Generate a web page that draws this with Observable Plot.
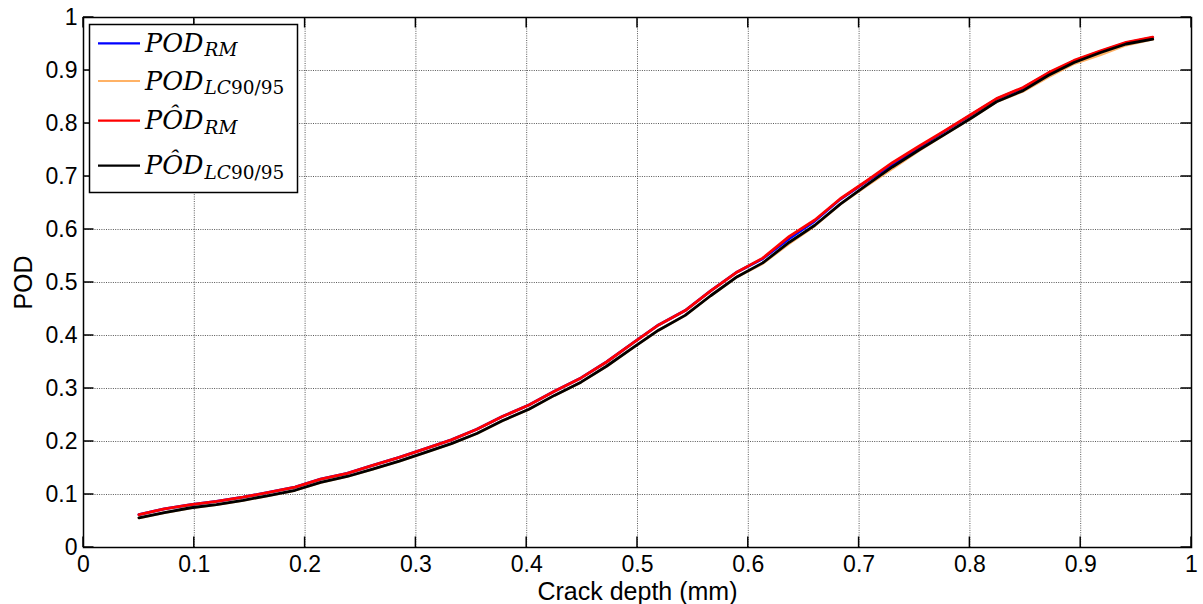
<!DOCTYPE html>
<html>
<head>
<meta charset="utf-8">
<script src="https://cdn.jsdelivr.net/npm/d3@7"></script>
<script src="https://cdn.jsdelivr.net/npm/@observablehq/plot@0.6"></script>
<style>
  html, body { margin: 0; padding: 0; background: #fff; }
  #chart svg { display: block; }
</style>
</head>
<body>
<div id="chart"></div>
<script>
// ---- data ----
const depth = [0.050, 0.073, 0.097, 0.120, 0.144, 0.167, 0.191, 0.214, 0.238, 0.261,
               0.285, 0.308, 0.332, 0.355, 0.378, 0.402, 0.425, 0.449, 0.472, 0.496,
               0.519, 0.543, 0.566, 0.590, 0.613, 0.637, 0.660, 0.683, 0.707, 0.730,
               0.754, 0.777, 0.801, 0.824, 0.848, 0.871, 0.894, 0.918, 0.941, 0.965];

const podRM = [0.062, 0.073, 0.081, 0.087, 0.095, 0.104, 0.114, 0.129, 0.140, 0.155,
               0.170, 0.186, 0.203, 0.223, 0.247, 0.269, 0.295, 0.320, 0.350, 0.386,
               0.420, 0.447, 0.484, 0.520, 0.545, 0.583, 0.616, 0.657, 0.691, 0.723,
               0.754, 0.785, 0.816, 0.846, 0.867, 0.895, 0.918, 0.936, 0.952, 0.962];

const podLC = [0.056, 0.066, 0.075, 0.081, 0.089, 0.098, 0.108, 0.123, 0.134, 0.148,
               0.163, 0.179, 0.196, 0.215, 0.239, 0.261, 0.287, 0.312, 0.342, 0.377,
               0.410, 0.438, 0.475, 0.511, 0.536, 0.574, 0.607, 0.648, 0.683, 0.715,
               0.749, 0.779, 0.810, 0.841, 0.861, 0.888, 0.913, 0.930, 0.948, 0.959];

const podHatRM = [0.062, 0.073, 0.081, 0.087, 0.095, 0.104, 0.114, 0.129, 0.140, 0.155,
                  0.170, 0.186, 0.203, 0.223, 0.247, 0.269, 0.295, 0.320, 0.350, 0.386,
                  0.420, 0.447, 0.484, 0.520, 0.546, 0.587, 0.618, 0.658, 0.692, 0.726,
                  0.757, 0.786, 0.817, 0.847, 0.868, 0.896, 0.919, 0.937, 0.953, 0.963];

const podHatLC = [0.056, 0.066, 0.075, 0.081, 0.089, 0.098, 0.108, 0.123, 0.134, 0.148,
                  0.163, 0.179, 0.196, 0.215, 0.239, 0.261, 0.287, 0.312, 0.342, 0.377,
                  0.410, 0.438, 0.475, 0.511, 0.537, 0.576, 0.608, 0.648, 0.684, 0.718,
                  0.750, 0.779, 0.810, 0.841, 0.862, 0.891, 0.915, 0.934, 0.950, 0.959];

const xTicks = [0, 0.1, 0.2, 0.3, 0.4, 0.5, 0.6, 0.7, 0.8, 0.9, 1];
const yTicks = [0, 0.1, 0.2, 0.3, 0.4, 0.5, 0.6, 0.7, 0.8, 0.9, 1];

const seriesBase   = ["POD", "POD", "PÔD", "PÔD"];
const seriesSub    = ["RM", "LC90/95", "RM", "LC90/95"];
const seriesColors = ["#0000ff", "#ffb266", "#ff0000", "#000000"];
const seriesValues = [podRM, podLC, podHatRM, podHatLC];

const xLabel = "Crack depth (mm)";
const yLabel = "POD";

// ---- build table ----
const tables = seriesValues.map(vals => vals.map((v, i) => ({x: depth[i], y: v})));

const fmt = d => String(+d.toFixed(1));
const tickFont = 23;
const labelFont = 25;

const chart = Plot.plot({
  width: 1203,
  height: 604,
  marginLeft: 83,
  marginRight: 12,
  marginTop: 17,
  marginBottom: 57,
  style: {fontFamily: "'Liberation Sans', Arial, Helvetica, sans-serif", fontSize: tickFont + "px", background: "#fff", color: "#000"},
  x: {domain: [0, 1]},
  y: {domain: [0, 1]},
  marks: [
    Plot.gridX(xTicks, {stroke: "#222", strokeOpacity: 0.75, strokeDasharray: "1,1.3", strokeWidth: 1}),
    Plot.gridY(yTicks, {stroke: "#222", strokeOpacity: 0.75, strokeDasharray: "1,1.3", strokeWidth: 1}),
    Plot.axisX(xTicks, {anchor: "bottom", tickSize: 0, tickPadding: 8, tickFormat: fmt, label: null, fontSize: tickFont}),
    Plot.axisY(yTicks, {anchor: "left", tickSize: 0, tickPadding: 6, tickFormat: fmt, label: null, fontSize: tickFont}),
    ...tables.map((t, k) => Plot.line(t, {x: "x", y: "y", stroke: seriesColors[k], strokeWidth: 2.8, strokeLinejoin: "round"})),
    Plot.frame({stroke: "#000", strokeWidth: 1.5}),
    Plot.text([xLabel], {frameAnchor: "bottom", lineAnchor: "bottom", dy: 52, fontSize: labelFont, fill: "#000"}),
    Plot.text([yLabel], {frameAnchor: "left", textAnchor: "middle", lineAnchor: "middle", dx: -60, rotate: -90, fontSize: labelFont, fill: "#000"})
  ]
});

document.getElementById("chart").appendChild(chart);

// ---- inward MATLAB-style ticks, placed with the plot's own scales ----
const sx = chart.scale("x"), sy = chart.scale("y");
const svg = d3.select(chart);
const x0 = sx.apply(0), x1 = sx.apply(1), y0 = sy.apply(0), y1 = sy.apply(1);
const tl = 10.5;
const tg = svg.append("g").attr("stroke", "#000").attr("stroke-width", 1.5);
xTicks.forEach(v => {
  const px = sx.apply(v);
  tg.append("line").attr("x1", px).attr("x2", px).attr("y1", y0).attr("y2", y0 - tl);
  tg.append("line").attr("x1", px).attr("x2", px).attr("y1", y1).attr("y2", y1 + tl);
});
yTicks.forEach(v => {
  const py = sy.apply(v);
  tg.append("line").attr("y1", py).attr("y2", py).attr("x1", x0).attr("x2", x0 + tl);
  tg.append("line").attr("y1", py).attr("y2", py).attr("x1", x1).attr("x2", x1 - tl);
});

// ---- legend ----
const lg = svg.append("g").attr("text-anchor", "start");
lg.append("rect").attr("x", 89.5).attr("y", 24.5).attr("width", 208).attr("height", 168)
  .attr("fill", "#fff").attr("stroke", "#000").attr("stroke-width", 1.5);
const rowY = [43.3, 81, 120.7, 165.7];
seriesBase.forEach((b, k) => {
  const yy = rowY[k];
  lg.append("line").attr("x1", 98).attr("x2", 140).attr("y1", yy).attr("y2", yy)
    .attr("stroke", seriesColors[k]).attr("stroke-width", 2.2);
  const t = lg.append("text").attr("x", 145).attr("y", yy + 8.6)
    .attr("text-anchor", "start")
    .attr("font-family", "'DejaVu Serif', 'Liberation Serif', serif")
    .attr("font-size", 25.5).attr("fill", "#000");
  t.append("tspan").attr("font-style", "italic").text(b);
  const sub = seriesSub[k];
  const m = sub.match(/^([A-Z]+)(.*)$/);
  t.append("tspan").attr("font-style", "italic").attr("font-size", 18.5).attr("dx", 1).attr("dy", 4.5).text(m[1]);
  if (m[2]) t.append("tspan").attr("font-size", 18.5).text(m[2]);
});
</script>
</body>
</html>
